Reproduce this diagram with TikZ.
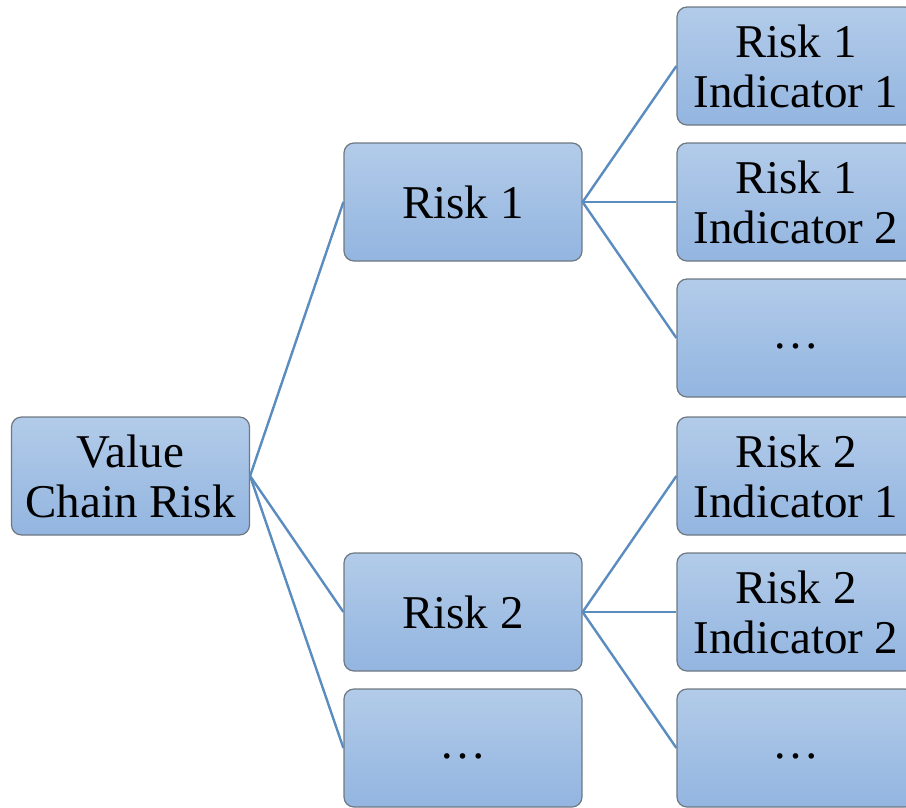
\documentclass[tikz,border=0pt]{standalone}
\usepackage{fontspec}
\setmainfont{LiberationSerif}[Extension=.ttf,UprightFont=*-Regular]
\definecolor{boxtop}{HTML}{B2CBE9}
\definecolor{boxbottom}{HTML}{93B5E0}
\definecolor{boxline}{HTML}{6E7882}
\definecolor{treeline}{HTML}{5A8CC0}
\begin{document}
\begin{tikzpicture}[x=1pt,y=-1pt]
\tikzset{
  riskbox/.style={rectangle,rounded corners=10pt,draw=boxline,line width=1.2pt,
    top color=boxtop,bottom color=boxbottom,minimum width=238pt,minimum height=118pt,
    align=center,inner sep=0pt,font=\fontsize{47}{50}\selectfont},
  branch/.style={draw=treeline,line width=2.4pt}
}
\useasboundingbox (0,0) rectangle (906,807);
\clip (0,0) rectangle (906,807);

% tree levels
% root at the left, risks in the middle, indicators at the right
\node[riskbox] (vcr) at (130.5,476) {Value\\Chain Risk};

\foreach \name/\y/\text in {risk1/202/{Risk 1}, risk2/612/{Risk 2}, riskmore/748/{\strut\textellipsis}}
    \node[riskbox] (\name) at (463,\y) {\text};

\foreach \name/\y/\text in {r1i1/66/{Risk 1\\Indicator 1}, r1i2/202/{Risk 1\\Indicator 2},
                            r1more/338/{\strut\textellipsis}, r2i1/476/{Risk 2\\Indicator 1},
                            r2i2/612/{Risk 2\\Indicator 2}, r2more/748/{\strut\textellipsis}}
    \node[riskbox] (\name) at (796,\y) {\text};

% connectors
\foreach \child in {risk1,risk2,riskmore}
    \draw[branch] (vcr.east) -- (\child.west);
\foreach \child in {r1i1,r1i2,r1more}
    \draw[branch] (risk1.east) -- (\child.west);
\foreach \child in {r2i1,r2i2,r2more}
    \draw[branch] (risk2.east) -- (\child.west);
\end{tikzpicture}
\end{document}
